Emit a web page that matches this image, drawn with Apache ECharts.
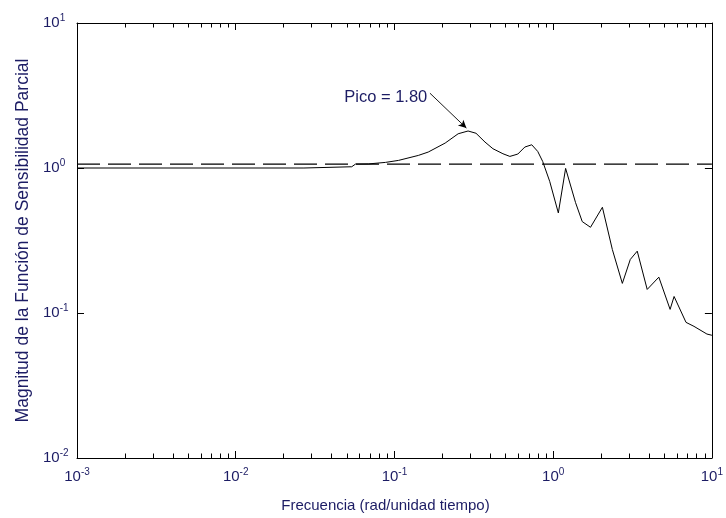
<!DOCTYPE html>
<html>
<head>
<meta charset="utf-8">
<script src="https://cdn.jsdelivr.net/npm/echarts@6/dist/echarts.min.js"></script>
<style>html,body{margin:0;padding:0;background:#fff;}#c{width:726px;height:518px;}</style>
</head>
<body>
<div id="c"></div>
<script>
// Data
var freq = [0.001, 0.0269, 0.0269, 0.0538, 0.0569, 0.0687, 0.0878, 0.106, 0.1414, 0.1633, 0.2088, 0.252, 0.291, 0.3266, 0.372, 0.4175, 0.4825, 0.5337, 0.599, 0.663, 0.733, 0.7995, 0.859, 0.951, 1.078, 1.198, 1.384, 1.525, 1.719, 2.043, 2.36, 2.728, 3.062, 3.387, 3.913, 4.633, 5.455, 5.779, 6.871, 7.713, 9.305, 10];
var mag = [1.0, 1.0, 1.02, 1.02, 1.065, 1.067, 1.093, 1.128, 1.221, 1.288, 1.486, 1.722, 1.80, 1.736, 1.51, 1.358, 1.254, 1.202, 1.248, 1.395, 1.446, 1.301, 1.11, 0.809, 0.490, 0.994, 0.577, 0.427, 0.390, 0.536, 0.274, 0.160, 0.234, 0.267, 0.1454, 0.1767, 0.1059, 0.130, 0.0862, 0.0809, 0.0716, 0.0702];
var dashX = [0.001, 10];
var dashY = [1.065, 1.065];
var xDecades = [0.001, 0.01, 0.1, 1, 10];
var yDecades = [0.01, 0.1, 1, 10];
var peakLabel = 'Pico = 1.80';
var arrowFrom = [0.1674, 3.28];
var arrowTo = [0.284, 1.885];
var labelAt = [0.1633, 3.045];
var xTitle = 'Frecuencia (rad/unidad tiempo)';
var yTitle = 'Magnitud de la Función de Sensibilidad Parcial';

function minorTicks(decades) {
  var out = [];
  for (var i = 0; i < decades.length - 1; i++) {
    for (var k = 2; k <= 9; k++) out.push(+(decades[i] * k).toPrecision(6));
  }
  return out;
}
var xMinor = minorTicks(xDecades);
var yMinor = minorTicks(yDecades);

var txtColor = '#1c1c64';
var font = 'Liberation Sans, Arial, sans-serif';

function expFmt(v) {
  var e = Math.round(Math.log10(v));
  return '{b|10}{e|' + e + '}';
}
var richLab = {
  b: { fontSize: 15, fontFamily: font, color: txtColor },
  e: { fontSize: 10, fontFamily: font, color: txtColor, padding: [0, 0, 9, 0] }
};

function axisBase(pos, showLabel) {
  return {
    type: 'log', logBase: 10, position: pos,
    axisLine: { show: true, onZero: false, lineStyle: { color: '#000', width: 1 } },
    axisTick: { show: true, inside: true, length: 7, lineStyle: { color: '#000', width: 1 } },
    splitLine: { show: false },
    minorTick: { show: false },
    axisLabel: { show: showLabel }
  };
}

var xb = axisBase('bottom', true);
xb.min = 0.001; xb.max = 10; xb.interval = 1;
xb.axisLabel = { show: true, formatter: expFmt, rich: richLab, margin: 9 };
xb.name = xTitle; xb.nameLocation = 'middle'; xb.nameGap = 40;
xb.nameTextStyle = { fontSize: 15, fontFamily: font, color: txtColor, padding: [0, 18, 0, 0] };
var xt = axisBase('top', false);
xt.min = 0.001; xt.max = 10; xt.interval = 1;

var yl = axisBase('left', true);
yl.min = 0.01; yl.max = 10; yl.interval = 1;
yl.axisLabel = { show: true, formatter: expFmt, rich: richLab, margin: 34, align: 'left' };
yl.name = yTitle; yl.nameLocation = 'middle'; yl.nameGap = 45;
yl.nameTextStyle = { fontSize: 17.5, fontFamily: font, color: txtColor };
var yr = axisBase('right', false);
yr.min = 0.01; yr.max = 10; yr.interval = 1;

function tickRenderer(isX) {
  return function (params, api) {
    var cs = params.coordSys;
    var v = api.value(0);
    var L = 4.5;
    var st = { stroke: '#000', lineWidth: 1 };
    if (isX) {
      var px = Math.round(api.coord([v, 1])[0]) + 0.5;
      var yb = cs.y + cs.height, yt = cs.y;
      return { type: 'group', children: [
        { type: 'line', shape: { x1: px, y1: yb, x2: px, y2: yb - L }, style: st },
        { type: 'line', shape: { x1: px, y1: yt, x2: px, y2: yt + L }, style: st }
      ] };
    } else {
      var py = Math.round(api.coord([1, v])[1]) + 0.5;
      var xl = cs.x, xr = cs.x + cs.width;
      return { type: 'group', children: [
        { type: 'line', shape: { x1: xl, y1: py, x2: xl + L, y2: py }, style: st },
        { type: 'line', shape: { x1: xr, y1: py, x2: xr - L, y2: py }, style: st }
      ] };
    }
  };
}

var option = {
  animation: false,
  backgroundColor: '#fff',
  grid: { left: 77, right: 11, top: 23, bottom: 59, containLabel: false },
  xAxis: [xb, xt],
  yAxis: [yl, yr],
  series: [
    {
      type: 'line', name: 'dash', xAxisIndex: 0, yAxisIndex: 0,
      data: dashX.map(function (x, i) { return [x, dashY[i]]; }),
      symbol: 'none', silent: true,
      lineStyle: { color: '#000', width: 1.2, type: [23, 8] }
    },
    {
      type: 'line', name: 'S', xAxisIndex: 0, yAxisIndex: 0,
      data: freq.map(function (x, i) { return [x, mag[i]]; }),
      symbol: 'none', silent: true,
      lineStyle: { color: '#000', width: 1 },
      markLine: {
        silent: true, symbol: ['none', 'arrow'], symbolSize: [6, 8],
        lineStyle: { color: '#000', width: 0.9, type: 'solid' },
        label: { show: false },
        data: [[{ coord: arrowFrom }, { coord: arrowTo }]]
      },
      markPoint: {
        silent: true, symbol: 'circle', symbolSize: 0,
        label: { show: true, position: 'left', distance: 1, formatter: peakLabel,
                 fontSize: 16.5, fontFamily: font, color: txtColor },
        data: [{ coord: labelAt }]
      }
    },
    {
      type: 'custom', xAxisIndex: 0, yAxisIndex: 0, silent: true,
      renderItem: tickRenderer(true),
      data: xMinor.map(function (v) { return [v, 1]; })
    },
    {
      type: 'custom', xAxisIndex: 0, yAxisIndex: 0, silent: true,
      renderItem: tickRenderer(false),
      data: yMinor.map(function (v) { return [1, v]; })
    }
  ]
};
echarts.init(document.getElementById('c'), null, { renderer: 'canvas' }).setOption(option);
</script>
</body>
</html>
